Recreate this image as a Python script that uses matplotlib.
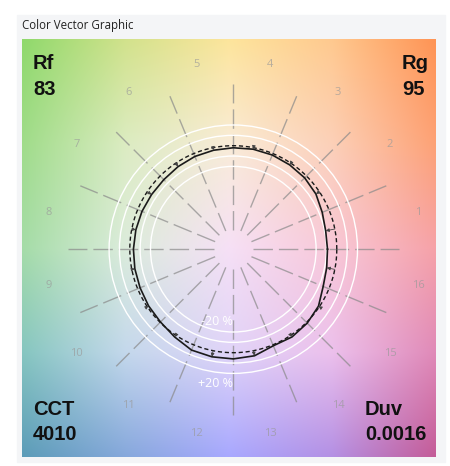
import numpy as np
import matplotlib
matplotlib.use("Agg")
import matplotlib.pyplot as plt
from matplotlib.colors import to_rgb
from matplotlib.patches import Rectangle, Circle

# test vector radius relative to the reference circle, every 11.25 deg from east, counterclockwise
test_angles = [0, 11.25, 22.5, 33.75, 45, 56.25, 67.5, 78.75,
               90, 101.25, 112.5, 123.75, 135, 146.25, 157.5, 168.75,
               180, 191.25, 202.5, 213.75, 225, 236.25, 247.5, 258.75,
               270, 281.25, 292.5, 303.75, 315, 326.25, 337.5, 348.75]
test_radius = [0.91, 0.91, 0.93, 0.96, 0.975, 0.98, 0.985, 0.985,
               0.98, 0.975, 0.97, 0.96, 0.95, 0.95, 0.955, 0.96,
               0.965, 0.97, 0.975, 0.985, 0.995, 1.02, 1.055, 1.06,
               1.06, 1.05, 1.01, 1.02, 1.01, 0.99, 0.94, 0.92]

hue_bins = ["1", "2", "3", "4", "5", "6", "7", "8",
            "9", "10", "11", "12", "13", "14", "15", "16"]
ring_levels = [0.8, 0.9, 1.1, 1.2]

rf, rg = 83, 95
cct, duv = 4010, 0.0016

# background colour samples, 5x5 grid, top row first
bg_grid = [
    ["#8fd96c", "#d2e28c", "#fde59c", "#ffc98f", "#ff9455"],
    ["#a0dc8a", "#dcecc2", "#f9ecd8", "#fcd0b8", "#fda276"],
    ["#a5dca8", "#dcecdc", "#f6e0f6", "#f8c8d8", "#f6a2a8"],
    ["#86c6c0", "#c4d8ec", "#e0d4f8", "#ecc0ec", "#e08ab8"],
    ["#5c9cb8", "#86a8dc", "#a8a8ff", "#b490e4", "#c45c98"],
]


def smooth_grid(grid, n=300):
    g = np.arange(grid.shape[0])
    t = np.linspace(0, g[-1], n)
    rows = np.array([[np.interp(t, g, grid[i, :, k]) for k in range(3)] for i in range(len(g))])
    img = np.array([[np.interp(t, g, rows[:, k, j]) for k in range(3)] for j in range(n)])
    return img.transpose(2, 0, 1)


W, H = 450, 466
fig = plt.figure(figsize=(W / 100, H / 100), dpi=100)
fig.patch.set_facecolor("white")

# grey panel
fig.patches.append(Rectangle((17 / W, 1 - 462 / H), 428 / W, 447 / H,
                             transform=fig.transFigure, color="#f4f5f7", zorder=-5))
fig.text(22 / W, 1 - 29 / H, "Color Vector Graphic", fontsize=8.3,
         family="Open Sans", color="#222222", va="baseline")

# axes: unit = reference circle radius (103.5 px), centre at (233.3, 249.2) px
unit = 103.5
cx, cy = 233.3, 249.2
x0, x1 = 22, 436
y0, y1 = 39, 457
ax = fig.add_axes([x0 / W, 1 - y1 / H, (x1 - x0) / W, (y1 - y0) / H])
ax.set_zorder(2)
ax.set_xlim((x0 - cx) / unit, (x1 - cx) / unit)
ax.set_ylim((cy - y1) / unit, (cy - y0) / unit)
ax.axis("off")

grid = np.array([[to_rgb(c) for c in row] for row in bg_grid])
ax.imshow(smooth_grid(grid), extent=[*ax.get_xlim(), *ax.get_ylim()],
          origin="upper", interpolation="bilinear", aspect="auto", zorder=0)

# radial dashed lines at bin edges
for k in range(16):
    a = np.deg2rad(k * 22.5)
    ax.plot([0.19 * np.cos(a), 1.6 * np.cos(a)], [0.19 * np.sin(a), 1.6 * np.sin(a)],
            color="#8a8a8a", lw=1.0, alpha=0.7, dashes=(14, 4.3), zorder=1)

# hue bin labels
for k, lab in enumerate(hue_bins):
    a = np.deg2rad(11.25 + k * 22.5)
    ax.text(1.82 * np.cos(a), 1.82 * np.sin(a), lab, fontsize=8, color="#9a9a9a",
            alpha=0.7, ha="center", va="center", family="Open Sans", zorder=2)

# white rings
for r in ring_levels:
    ax.add_patch(Circle((0, 0), r, fill=False, ec="white", lw=1.0, zorder=2))
ax.text(-0.005, -0.70, "-20 %", color="white", fontsize=9, ha="right", va="center",
        family="Open Sans", zorder=3)
ax.text(-0.005, -1.296, "+20 %", color="white", fontsize=9, ha="right", va="center",
        family="Open Sans", zorder=3)

# reference circle
t = np.linspace(0, 2 * np.pi, 400)
ax.plot(np.cos(t), np.sin(t), color="#1a1a1a", lw=1.0, dashes=(3, 2), zorder=4)

# test vector line
ang = np.deg2rad(test_angles + [test_angles[0]])
rad = np.array(test_radius + [test_radius[0]])
ax.plot(rad * np.cos(ang), rad * np.sin(ang), color="#1a1a1a", lw=1.2, zorder=5)

# small shift arrows at bin centres
for k in range(16):
    a = np.deg2rad(test_angles[2 * k + 1])
    r = test_radius[2 * k + 1]
    ax.annotate("", xy=(r * np.cos(a), r * np.sin(a)), xytext=(np.cos(a), np.sin(a)),
                arrowprops=dict(arrowstyle="-|>", color="#444444", lw=0.6,
                                mutation_scale=5, shrinkA=0, shrinkB=0), zorder=5)

# scores
big = dict(fontsize=14.5, fontweight="bold", family="Liberation Sans",
           color="#111111", va="baseline", zorder=10)
fig.text(33 / W, 1 - 69 / H, "Rf", **big)
fig.text(33 / W, 1 - 95 / H, str(rf), **big)
fig.text(402 / W, 1 - 69 / H, "Rg", **big)
fig.text(402 / W, 1 - 95 / H, str(rg), **big)
fig.text(33 / W, 1 - 415 / H, "CCT", **big)
fig.text(33 / W, 1 - 440 / H, str(cct), **big)
fig.text(365 / W, 1 - 415 / H, "Duv", **big)
fig.text(365 / W, 1 - 440 / H, f"{duv:.4f}", **big)

fig.savefig("out.png", dpi=100)
